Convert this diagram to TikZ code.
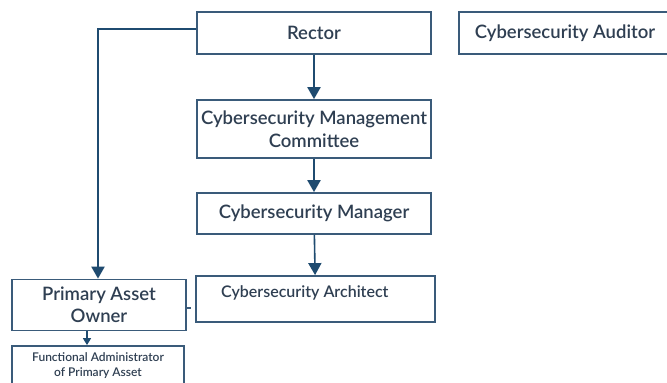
\documentclass[tikz,border=0pt]{standalone}
\usepackage{fontspec}
\setmainfont{Lato Semibold}
\usetikzlibrary{arrows.meta}
\definecolor{boxline}{HTML}{3A5B7A}
\definecolor{arrowcol}{HTML}{1F4B70}
\definecolor{txtcol}{HTML}{2F3F52}
\tikzset{
  orgbox/.style={draw=boxline, line width=1.8pt, fill=white, text=txtcol,
    inner sep=0pt, align=center, font=\fontsize{18.5}{22.5}\selectfont},
  link/.style={draw=arrowcol, line width=2.2pt,
    -{Triangle[width=13pt,length=12pt]}},
  smalllink/.style={draw=arrowcol, line width=1.6pt,
    -{Triangle[width=8pt,length=7pt]}},
}
\begin{document}
\begin{tikzpicture}[x=1pt,y=-1pt]
  \useasboundingbox[fill=white] (0,0) rectangle (667,383);

  % boxes (centre, size)
  \node[orgbox, minimum width=234pt, minimum height=42pt] (rector) at (314,33) {Rector};
  \node[orgbox, minimum width=212pt, minimum height=42pt] (auditor) at (565,33) {Cybersecurity Auditor};
  \node[orgbox, minimum width=234pt, minimum height=58pt] (committee) at (314,129)
    {Cybersecurity Management\\Committee};
  \node[orgbox, minimum width=234pt, minimum height=41pt] (manager) at (314,213.5) {Cybersecurity Manager};
  \node[orgbox, minimum width=239pt, minimum height=46pt] (architect) at (315.5,299) {};
  \node[anchor=west, text=txtcol, inner sep=0pt, font=\fontsize{16}{19}\selectfont]
    (architectlabel) at (221,293) {Cybersecurity Architect};
  \node[orgbox, minimum width=174pt, minimum height=51pt] (owner) at (99,305)
    {Primary Asset\\Owner};
  \node[orgbox, minimum width=172pt, minimum height=40pt,
    font=\fontsize{12}{15}\selectfont] (admin) at (98,366)
    {Functional Administrator\\of Primary Asset};

  % connectors
  \draw[link] (rector) -- (committee);
  \draw[link] (committee) -- (manager);
  \draw[link, line width=1.6pt] (manager) -- (architect);
  \draw[link] (rector.west |- 0,29) -| (owner.north -| 98,0);
  \draw[smalllink] (owner.south -| 87,0) -- (admin.north -| 87,0);
  \coordinate (stub) at (191,308);
  \draw[draw=boxline, line width=1.2pt] (owner.east |- stub) -- (stub);
\end{tikzpicture}
\end{document}
